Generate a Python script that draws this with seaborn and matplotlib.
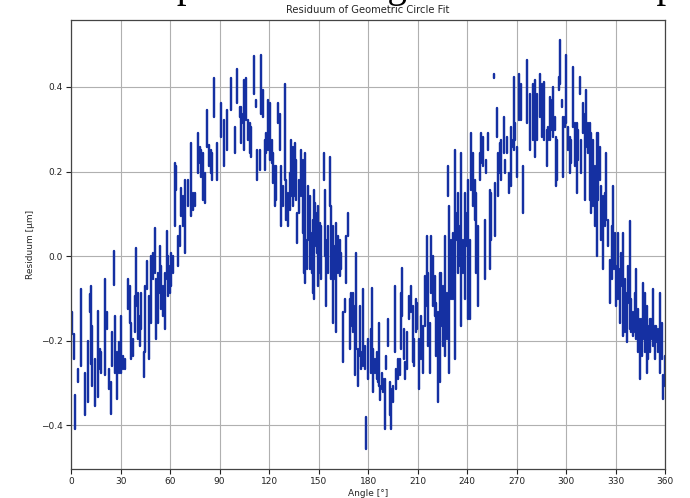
import matplotlib
matplotlib.use("Agg")
import matplotlib.pyplot as plt
import seaborn as sns
import pandas as pd

# Residuum of the geometric circle fit; every sample angle has a spread of
# readings, stored as its upper and lower value [µm].
angle_deg = [
    0.6, 1.8, 2.4, 4.2, 6.3, 8.3, 10.3, 11.3, 12.3, 12.9,
    14.3, 16.4, 17.4, 18.4, 20.4, 22.0, 22.8, 24.0, 25.1, 26.1,
    26.9, 28.1, 28.9, 30.1, 31.5, 32.9, 34.5, 35.6, 36.6, 37.6,
    38.6, 39.4, 40.6, 41.6, 42.6, 44.2, 45.1, 46.3, 47.5, 48.7,
    49.9, 50.7, 51.7, 52.7, 53.7, 54.7, 55.8, 56.8, 58.0, 58.8,
    59.8, 60.8, 61.8, 62.8, 63.8, 64.8, 65.9, 66.9, 67.9, 68.9,
    70.9, 72.9, 74.1, 75.4, 77.0, 78.2, 79.0, 80.2, 81.0, 82.6,
    83.4, 84.6, 85.5, 86.7, 88.7,
    91.1, 92.7, 94.7, 97.2, 99.2, 100.8, 102.2, 103.2, 104.2, 104.8,
    106.3, 107.3, 108.3, 109.3, 110.9, 112.3, 112.9, 114.3, 115.0, 116.4,
    117.4, 118.4, 119.4, 120.4, 121.8, 122.4, 123.4, 124.4, 125.5, 126.5,
    127.5, 128.5, 129.5, 130.5, 131.5, 132.5, 133.5, 134.5, 135.6, 136.6,
    137.2, 138.0, 139.2, 140.4, 141.2, 142.0, 142.8, 143.6, 144.6, 145.7,
    146.7, 147.3, 148.1, 148.9, 149.7, 150.7, 151.7, 153.3, 153.7, 154.7,
    155.8, 157.0, 157.8, 158.8, 159.8, 160.8, 161.8, 162.8, 163.8, 164.8,
    165.9, 166.9, 167.9, 168.9, 169.9, 170.9, 171.9, 172.9, 173.9, 174.9,
    175.9, 177.0, 178.0, 178.9, 179.9,
    181.6, 182.4, 183.2, 184.0, 185.1, 186.1, 186.5, 187.3, 188.5, 189.3,
    190.1, 191.1, 192.1, 193.1, 194.1, 195.2, 196.2, 197.2, 198.2, 199.2,
    200.2, 200.8, 201.8, 202.6, 203.8, 204.8, 205.9, 206.9, 207.9, 208.9,
    209.9, 210.9, 211.9, 213.3, 214.3, 215.4, 216.4, 217.4, 218.4, 219.4,
    220.4, 221.4, 222.4, 223.4, 224.4, 225.5, 226.5, 227.5, 228.5, 229.3,
    230.5, 231.5, 232.5, 233.5, 234.5, 235.5, 236.5, 237.6, 238.6, 239.6,
    240.6, 241.6, 242.6, 243.6, 244.6, 245.6, 246.7, 247.7, 248.7, 249.7,
    250.7, 251.7, 252.7, 253.7, 254.7, 256.3, 256.8, 257.8, 258.8, 259.8,
    260.8, 262.2, 263.2, 264.4, 265.2, 266.4, 267.3, 268.1, 268.9, 270.1,
    271.3,
    272.5, 274.1, 276.0, 278.0, 280.0, 281.4, 282.6, 284.0, 285.5, 286.7,
    288.1, 289.1, 290.1, 291.1, 292.1, 293.1, 294.1, 294.7, 295.5, 296.4,
    297.2, 298.2, 299.2, 300.2, 301.2, 302.2, 303.2, 304.2, 305.3, 306.3,
    307.3, 308.3, 309.3, 310.3, 311.3, 312.3, 313.3, 314.3, 315.3, 316.4,
    317.4, 318.4, 319.4, 320.4, 321.4, 322.4, 323.4, 324.4, 325.5, 326.5,
    327.5, 328.5, 329.5, 330.5, 331.5, 332.5, 333.5, 334.5, 335.6, 336.6,
    337.6, 338.6, 339.6, 340.6, 341.6, 342.6, 343.6, 344.6, 345.7, 346.7,
    347.7, 348.7, 349.7, 350.7, 351.7, 352.7, 353.7, 354.7, 355.8, 356.8,
    357.8, 358.8, 359.8,
]

resid_top = [
    -0.133, -0.184, -0.329, -0.267, -0.078, -0.275, -0.200, -0.090, -0.071, -0.165,
    -0.243, -0.129, -0.220, -0.227, -0.055, -0.133, -0.267, -0.298, -0.180, 0.012,
    -0.141, -0.227, -0.204, -0.141, -0.235, -0.243, -0.055, -0.071, -0.157, -0.196,
    -0.094, 0.020, -0.086, -0.141, -0.086, -0.227, -0.071, -0.012, -0.094, 0.000,
    0.008, 0.067, -0.055, -0.039, 0.024, -0.024, -0.071, -0.039, 0.059, 0.000,
    -0.024, 0.008, 0.000, 0.220, 0.212, 0.047, 0.071, 0.161, 0.141, 0.180,
    0.180, 0.267, 0.149, 0.149, 0.290, 0.259, 0.251, 0.243, 0.196, 0.345,
    0.263, 0.251, 0.243, 0.420, 0.267,
    0.361, 0.322, 0.345, 0.420, 0.306, 0.443, 0.353, 0.353, 0.337, 0.416,
    0.420, 0.322, 0.314, 0.306, 0.472, 0.369, 0.251, 0.251, 0.475, 0.392,
    0.275, 0.290, 0.369, 0.361, 0.275, 0.243, 0.212, 0.212, 0.361, 0.337,
    0.212, 0.165, 0.408, 0.180, 0.149, 0.196, 0.275, 0.259, 0.267, 0.227,
    0.102, 0.180, 0.251, 0.227, 0.102, 0.243, 0.039, 0.165, 0.141, 0.055,
    0.086, 0.157, 0.125, 0.102, 0.118, 0.078, 0.071, 0.243, 0.157, 0.039,
    0.071, 0.235, 0.118, 0.071, 0.024, 0.078, 0.047, 0.039, 0.008, -0.133,
    -0.102, 0.047, 0.102, -0.102, -0.086, -0.086, -0.118, 0.008, -0.220, -0.118,
    -0.227, -0.078, -0.212, -0.380, -0.196,
    -0.173, -0.075, -0.220, -0.243, -0.227, -0.267, -0.157, -0.306, -0.275, -0.290,
    -0.290, -0.235, -0.149, -0.298, -0.314, -0.306, -0.071, -0.267, -0.243, -0.243,
    -0.086, -0.027, -0.173, -0.251, -0.180, -0.094, -0.071, -0.118, -0.196, -0.102,
    -0.110, -0.196, -0.141, -0.165, -0.047, 0.047, -0.039, -0.157, 0.047, 0.000,
    -0.047, -0.110, -0.133, -0.039, -0.039, -0.071, 0.047, -0.086, 0.212, 0.118,
    0.039, 0.055, 0.251, 0.102, 0.149, 0.071, 0.243, 0.039, 0.149, 0.102,
    0.180, 0.039, 0.290, 0.243, 0.180, 0.149, 0.071, 0.243, 0.290, 0.282,
    0.086, 0.227, 0.290, 0.157, 0.149, 0.431, 0.173, 0.349, 0.243, 0.267,
    0.275, 0.329, 0.227, 0.282, 0.196, 0.306, 0.275, 0.424, 0.314, 0.259,
    0.431,
    0.408, 0.212, 0.463, 0.384, 0.408, 0.416, 0.384, 0.431, 0.408, 0.412,
    0.298, 0.306, 0.376, 0.369, 0.400, 0.329, 0.282, 0.275, 0.424, 0.510,
    0.369, 0.329, 0.329, 0.475, 0.306, 0.282, 0.275, 0.447, 0.314, 0.314,
    0.298, 0.424, 0.275, 0.361, 0.337, 0.392, 0.314, 0.314, 0.290, 0.275,
    0.212, 0.290, 0.290, 0.259, 0.165, 0.141, 0.149, 0.243, 0.086, -0.008,
    0.071, 0.165, 0.055, -0.024, 0.055, -0.031, 0.008, 0.055, -0.055, -0.086,
    -0.024, 0.082, -0.102, -0.133, -0.086, -0.031, -0.125, -0.149, -0.149, -0.063,
    -0.086, -0.118, -0.165, -0.149, -0.149, -0.078, -0.165, -0.165, -0.173, -0.086,
    -0.157, -0.282, -0.235,
]

resid_bottom = [
    -0.184, -0.243, -0.408, -0.298, -0.259, -0.376, -0.345, -0.133, -0.255, -0.306,
    -0.353, -0.333, -0.267, -0.275, -0.282, -0.173, -0.314, -0.373, -0.259, -0.067,
    -0.275, -0.337, -0.275, -0.275, -0.267, -0.267, -0.125, -0.157, -0.243, -0.235,
    -0.180, -0.118, -0.196, -0.212, -0.173, -0.286, -0.227, -0.078, -0.243, -0.157,
    -0.055, -0.039, -0.196, -0.157, -0.086, -0.125, -0.141, -0.173, -0.055, -0.094,
    -0.086, -0.071, -0.039, 0.071, 0.157, -0.024, 0.024, 0.094, 0.071, 0.008,
    0.118, 0.094, 0.110, 0.118, 0.196, 0.220, 0.188, 0.133, 0.125, 0.259,
    0.212, 0.196, 0.180, 0.329, 0.180,
    0.282, 0.212, 0.251, 0.345, 0.243, 0.361, 0.329, 0.267, 0.314, 0.251,
    0.322, 0.275, 0.243, 0.235, 0.384, 0.353, 0.180, 0.204, 0.337, 0.329,
    0.204, 0.243, 0.251, 0.227, 0.220, 0.173, 0.118, 0.133, 0.314, 0.251,
    0.071, 0.118, 0.180, 0.086, 0.071, 0.110, 0.141, 0.118, 0.141, 0.133,
    0.031, 0.102, 0.141, 0.055, -0.039, -0.063, -0.031, 0.039, -0.031, -0.039,
    -0.086, -0.102, 0.024, 0.008, -0.071, -0.039, -0.055, 0.180, 0.000, -0.118,
    -0.039, 0.118, -0.055, -0.157, -0.055, -0.180, -0.039, -0.047, -0.031, -0.251,
    -0.133, -0.063, 0.047, -0.220, -0.165, -0.180, -0.282, -0.220, -0.306, -0.235,
    -0.267, -0.259, -0.267, -0.455, -0.290,
    -0.275, -0.243, -0.322, -0.275, -0.290, -0.298, -0.306, -0.341, -0.314, -0.322,
    -0.408, -0.267, -0.212, -0.376, -0.408, -0.345, -0.227, -0.314, -0.290, -0.282,
    -0.220, -0.141, -0.243, -0.290, -0.267, -0.149, -0.133, -0.251, -0.259, -0.180,
    -0.173, -0.314, -0.243, -0.275, -0.165, -0.118, -0.212, -0.275, -0.086, -0.118,
    -0.141, -0.235, -0.345, -0.298, -0.165, -0.212, -0.235, -0.196, 0.141, -0.275,
    -0.102, -0.102, -0.243, 0.039, -0.039, -0.024, -0.165, -0.039, -0.102, 0.024,
    -0.149, -0.149, 0.157, 0.118, 0.086, -0.039, -0.118, 0.180, 0.220, 0.212,
    -0.055, 0.196, 0.251, -0.031, 0.039, 0.420, 0.047, 0.282, 0.141, 0.196,
    0.180, 0.243, 0.196, 0.243, 0.149, 0.165, 0.259, 0.251, 0.275, 0.188,
    0.322,
    0.322, 0.102, 0.314, 0.251, 0.275, 0.235, 0.275, 0.329, 0.282, 0.275,
    0.212, 0.275, 0.275, 0.298, 0.282, 0.298, 0.165, 0.180, 0.392, 0.408,
    0.353, 0.188, 0.306, 0.314, 0.251, 0.196, 0.220, 0.306, 0.212, 0.149,
    0.227, 0.384, 0.196, 0.290, 0.133, 0.259, 0.243, 0.133, 0.102, 0.118,
    0.071, 0.000, 0.133, 0.180, 0.039, -0.031, 0.071, 0.086, 0.024, -0.110,
    -0.055, -0.031, -0.031, -0.118, -0.102, -0.157, -0.071, -0.188, -0.180, -0.204,
    -0.110, -0.173, -0.180, -0.188, -0.180, -0.196, -0.227, -0.290, -0.235, -0.196,
    -0.227, -0.275, -0.243, -0.227, -0.196, -0.212, -0.243, -0.204, -0.227, -0.275,
    -0.243, -0.337, -0.306,
]

x_ticks = [0, 30, 60, 90, 120, 150, 180, 210, 240, 270, 300, 330, 360]

# Long-form table: one vertical stroke per sample angle.
rows = []
for seg, (a, hi, lo) in enumerate(zip(angle_deg, resid_top, resid_bottom)):
    rows.append({"seg": seg, "angle": a, "residuum": hi})
    rows.append({"seg": seg, "angle": a, "residuum": lo})
df = pd.DataFrame(rows)

sns.set_theme(style="ticks")
plt.rcParams["font.family"] = ["DejaVu Sans"]

fig, ax = plt.subplots(figsize=(6.9, 4.98), dpi=100)
fig.subplots_adjust(left=0.103, right=0.964, top=0.96, bottom=0.058)

sns.lineplot(data=df, x="angle", y="residuum", units="seg", estimator=None,
             sort=False, color="#1530a2", linewidth=1.75, ax=ax, legend=False)

ax.set_xlim(0, 360)
ax.set_xticks(x_ticks)
ax.grid(True, color="#b0b0b0", linewidth=0.8)
ax.set_axisbelow(True)
for s in ax.spines.values():
    s.set_color("#444444")
    s.set_linewidth(0.9)
ax.tick_params(labelsize=6.5, length=3.5, width=0.8, colors="#222222", pad=2.5)
ax.set_title("Residuum of Geometric Circle Fit", fontsize=7.2, pad=5)
ax.set_xlabel("Angle [°]", fontsize=6.5, labelpad=2)
ax.set_ylabel("Residuum [µm]", fontsize=6.5, labelpad=4)

# Large page heading sitting above the figure's upper edge
fig.text(0.147, 1.0 + 3 / 498, "Compute Rounding of Residual Map",
         fontsize=28, family="Liberation Serif", ha="left", va="baseline",
         color="black")

fig.savefig("out.png", dpi=100)
